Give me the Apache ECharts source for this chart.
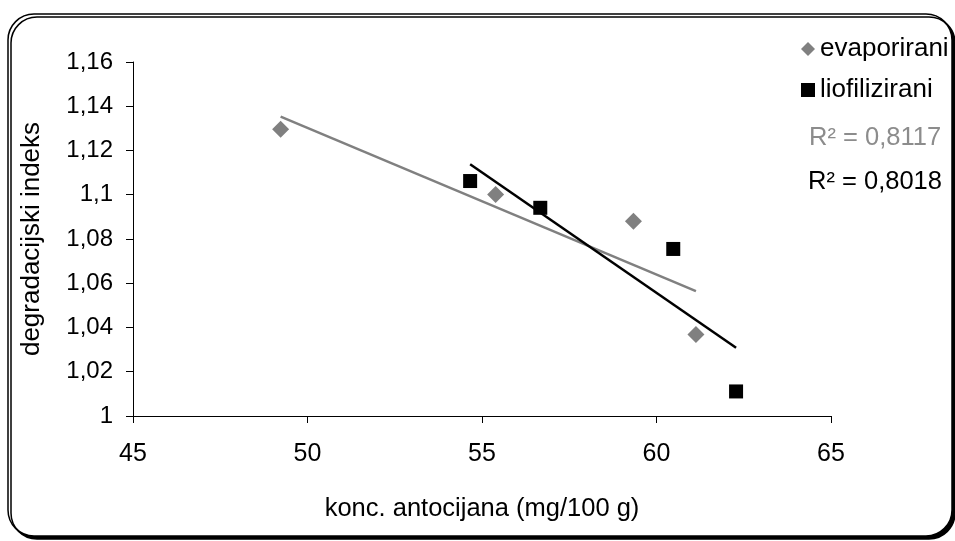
<!DOCTYPE html>
<html>
<head>
<meta charset="utf-8">
<script src="https://cdn.jsdelivr.net/npm/echarts@6/dist/echarts.min.js"></script>
<style>
html,body{margin:0;padding:0;background:#fff;}
#chart{width:955px;height:541px;}
</style>
</head>
<body>
<div id="chart"></div>
<script>
// ---- data ----
var evapX = [49.23, 55.39, 59.34, 61.13];
var evapY = [1.1296, 1.1001, 1.0880, 1.0368];
var lioX = [54.66, 56.67, 60.48, 62.28];
var lioY = [1.1062, 1.0941, 1.0755, 1.0111];
var seriesNames = ['evaporirani', 'liofilizirani'];
var r2Labels = ['R\u00B2 = 0,8117', 'R\u00B2 = 0,8018'];
var xTicks = [45, 50, 55, 60, 65];
var yTicks = [1, 1.02, 1.04, 1.06, 1.08, 1.1, 1.12, 1.14, 1.16];
var xTitle = 'konc. antocijana (mg/100 g)';
var yTitle = 'degradacijski indeks';

function pairs(xs, ys) { return xs.map(function (x, i) { return [x, ys[i]]; }); }
// least-squares linear trend line across the data range
function trend(xs, ys) {
  var n = xs.length, mx = 0, my = 0;
  for (var i = 0; i < n; i++) { mx += xs[i]; my += ys[i]; }
  mx /= n; my /= n;
  var sxy = 0, sxx = 0;
  for (i = 0; i < n; i++) { sxy += (xs[i] - mx) * (ys[i] - my); sxx += (xs[i] - mx) * (xs[i] - mx); }
  var b = sxy / sxx, a = my - b * mx;
  var x0 = Math.min.apply(null, xs), x1 = Math.max.apply(null, xs);
  return [[x0, a + b * x0], [x1, a + b * x1]];
}

var FONT = 'Liberation Sans, Arial, Helvetica, sans-serif';
var GREY = '#808080';

var chart = echarts.init(document.getElementById('chart'));
chart.setOption({
  backgroundColor: '#fff',
  animation: false,
  textStyle: { fontFamily: FONT },
  graphic: [
    {
      type: 'rect', z: -10, silent: true,
      shape: { x: 8, y: 14, width: 944, height: 522, r: 26 },
      style: { fill: '#fff', stroke: '#000', lineWidth: 1.5, shadowColor: '#000', shadowOffsetX: 3, shadowOffsetY: 3, shadowBlur: 0 }
    },
    {
      type: 'text', left: 809, top: 125,
      style: { text: r2Labels[0], fill: '#8c8c8c', font: '25.5px ' + FONT }
    },
    {
      type: 'text', left: 808, top: 169,
      style: { text: r2Labels[1], fill: '#000', font: '25.5px ' + FONT }
    }
  ],
  grid: { left: 133, right: 124, top: 62, bottom: 125, containLabel: false },
  legend: {
    orient: 'vertical', left: 796, top: 31,
    itemWidth: 14, itemHeight: 14, itemGap: 15,
    textStyle: { fontSize: 26, color: '#000', fontFamily: FONT, lineHeight: 26 },
    data: [
      { name: seriesNames[0], icon: 'diamond' },
      { name: seriesNames[1], icon: 'rect' }
    ]
  },
  xAxis: {
    type: 'value', min: xTicks[0], max: xTicks[xTicks.length - 1], interval: 5,
    name: xTitle, nameLocation: 'middle', nameGap: 80,
    nameTextStyle: { fontSize: 25.5, color: '#000', fontFamily: FONT },
    axisLine: { lineStyle: { color: '#000', width: 1 } },
    axisTick: { show: true, inside: false, length: 7, lineStyle: { color: '#000' } },
    axisLabel: { fontSize: 25, color: '#000', margin: 26, fontFamily: FONT },
    splitLine: { show: false }
  },
  yAxis: {
    type: 'value', min: yTicks[0], max: yTicks[yTicks.length - 1], interval: 0.02,
    name: yTitle, nameLocation: 'middle', nameGap: 88,
    nameTextStyle: { fontSize: 26, color: '#000', fontFamily: FONT },
    axisLine: { show: true, lineStyle: { color: '#000', width: 1 } },
    axisTick: { show: true, inside: false, length: 7, lineStyle: { color: '#000' } },
    axisLabel: {
      fontSize: 24, color: '#000', margin: 20, fontFamily: FONT,
      formatter: function (v) { return String(+v.toFixed(2)).replace('.', ','); }
    },
    splitLine: { show: false }
  },
  series: [
    {
      name: seriesNames[0], type: 'scatter', symbol: 'diamond', symbolSize: 17,
      itemStyle: { color: GREY, opacity: 1 }, data: pairs(evapX, evapY), z: 3
    },
    {
      name: seriesNames[1], type: 'scatter', symbol: 'rect', symbolSize: 14,
      itemStyle: { color: '#000', opacity: 1 }, data: pairs(lioX, lioY), z: 3
    },
    {
      name: 'trend-evap', type: 'line', showSymbol: false, symbol: 'none',
      lineStyle: { color: GREY, width: 2.5 }, data: trend(evapX, evapY), z: 2
    },
    {
      name: 'trend-lio', type: 'line', showSymbol: false, symbol: 'none',
      lineStyle: { color: '#000', width: 2.5 }, data: trend(lioX, lioY), z: 2
    }
  ]
});
</script>
</body>
</html>
